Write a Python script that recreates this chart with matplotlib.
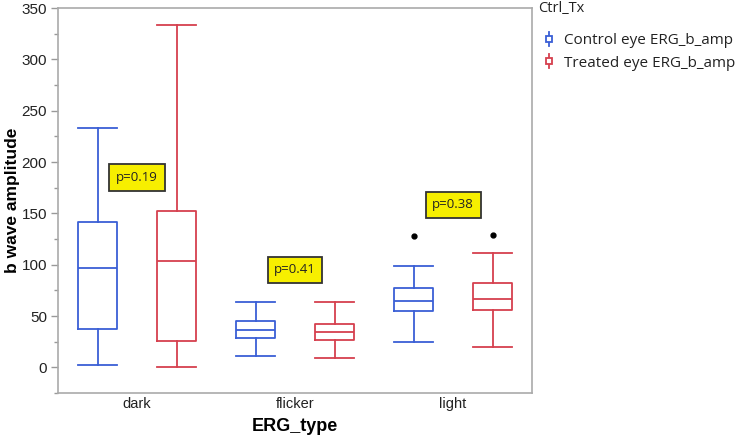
import matplotlib
matplotlib.use("Agg")
import matplotlib.pyplot as plt
from matplotlib.legend_handler import HandlerBase
from matplotlib.lines import Line2D
from matplotlib.patches import Rectangle

categories = ["dark", "flicker", "light"]
groups = ["Control eye ERG_b_amp", "Treated eye ERG_b_amp"]
colors = ["#3a5fd6", "#d6404e"]

# [whislo, q1, median, q3, whishi] per category
control_stats = [[2.3, 37.4, 97.0, 141.6, 232.8],
                 [11.4, 28.3, 36.5, 45.0, 63.5],
                 [25.0, 54.7, 65.0, 77.5, 98.7]]
treated_stats = [[0.0, 26.0, 103.5, 152.4, 333.7],
                 [8.8, 27.0, 34.8, 42.3, 63.5],
                 [20.2, 56.0, 66.7, 82.4, 111.4]]
control_fliers = [[], [], [128.3]]
treated_fliers = [[], [], [129.3]]

p_labels = ["p=0.19", "p=0.41", "p=0.38"]
p_y = [185, 95, 158.5]

yticks = [0, 50, 100, 150, 200, 250, 300, 350]

W, H = 737, 438
fig = plt.figure(figsize=(W / 100, H / 100), dpi=100)
ax = fig.add_axes([0.0787, 0.1027, 0.6432, 0.879])

offset = 0.25
width = 0.247
for gi, (stats, fliers) in enumerate([(control_stats, control_fliers), (treated_stats, treated_fliers)]):
    bxp_stats = []
    for ci, s in enumerate(stats):
        bxp_stats.append(dict(whislo=s[0], q1=s[1], med=s[2], q3=s[3], whishi=s[4], fliers=fliers[ci]))
    pos = [i + (-offset if gi == 0 else offset) for i in range(len(categories))]
    c = colors[gi]
    ax.bxp(bxp_stats, positions=pos, widths=width, capwidths=width, showfliers=True,
           boxprops=dict(color=c, linewidth=1.3),
           whiskerprops=dict(color=c, linewidth=1.3),
           capprops=dict(color=c, linewidth=1.3),
           medianprops=dict(color=c, linewidth=1.3),
           flierprops=dict(marker="o", markerfacecolor="black", markeredgecolor="black", markersize=3.5),
           manage_ticks=False)

for i, (lab, yv) in enumerate(zip(p_labels, p_y)):
    ax.text(i, yv, lab, ha="center", va="center", fontsize=9.5, family="Open Sans", color="#222222",
            bbox=dict(boxstyle="square,pad=0.5", facecolor="#f7ef00", edgecolor="#333333", linewidth=1.3))

ax.set_xlim(-0.5, 2.5)
ax.set_ylim(-25, 350)
ax.set_xticks(range(len(categories)))
ax.set_xticklabels(categories, fontsize=10.5, family="Liberation Sans", color="#222222")
ax.set_yticks(yticks)
ax.set_yticklabels([str(v) for v in yticks], fontsize=11, family="Liberation Sans", color="#222222")
ax.set_yticks([v + 25 for v in yticks[:-1]] + [-25], minor=True)
ax.tick_params(axis="x", length=0, pad=3)
ax.tick_params(axis="y", which="major", length=5, color="#999999", width=1, pad=3)
ax.tick_params(axis="y", which="minor", length=3, color="#999999", width=1)
for sp in ax.spines.values():
    sp.set_color("#aaaaaa")
    sp.set_linewidth(1.2)

ax.set_ylabel("b wave amplitude", fontsize=12.5, fontweight="bold", family="Liberation Sans")
ax.set_xlabel("ERG_type", fontsize=13, fontweight="bold", family="Liberation Sans")
ax.yaxis.set_label_coords(-0.097, 0.5)
ax.xaxis.set_label_coords(0.5, -0.088)
ax.xaxis.label.set_va("center")
ax.yaxis.label.set_va("center")


class BoxIcon(HandlerBase):
    def create_artists(self, legend, orig_handle, xdescent, ydescent, width, height, fontsize, trans):
        c = orig_handle.get_color()
        cx = width * 0.35
        l1 = Line2D([cx, cx], [-0.15 * height, 1.15 * height], color=c, lw=1.3, transform=trans)
        r = Rectangle((cx - height * 0.3, 0.22 * height), height * 0.6, height * 0.56,
                      facecolor="white", edgecolor=c, lw=1.3, transform=trans)
        return [l1, r]


fig.text(538 / W, 1 - 9 / H, "Ctrl_Tx", ha="left", va="center", fontsize=10.5,
         family="Open Sans", color="#222222")

handles = [Line2D([], [], color=c) for c in colors]
leg = fig.legend(handles, groups, loc="upper left", bbox_to_anchor=(544 / W, 1 - 33 / H), frameon=False,
                 handler_map={Line2D: BoxIcon()},
                 handlelength=0.9, handletextpad=0.4, labelspacing=0.5, borderaxespad=0,
                 borderpad=0.0, prop=dict(family="Open Sans", size=11))
for t in leg.get_texts():
    t.set_color("#222222")

fig.savefig("out.png", dpi=100)
